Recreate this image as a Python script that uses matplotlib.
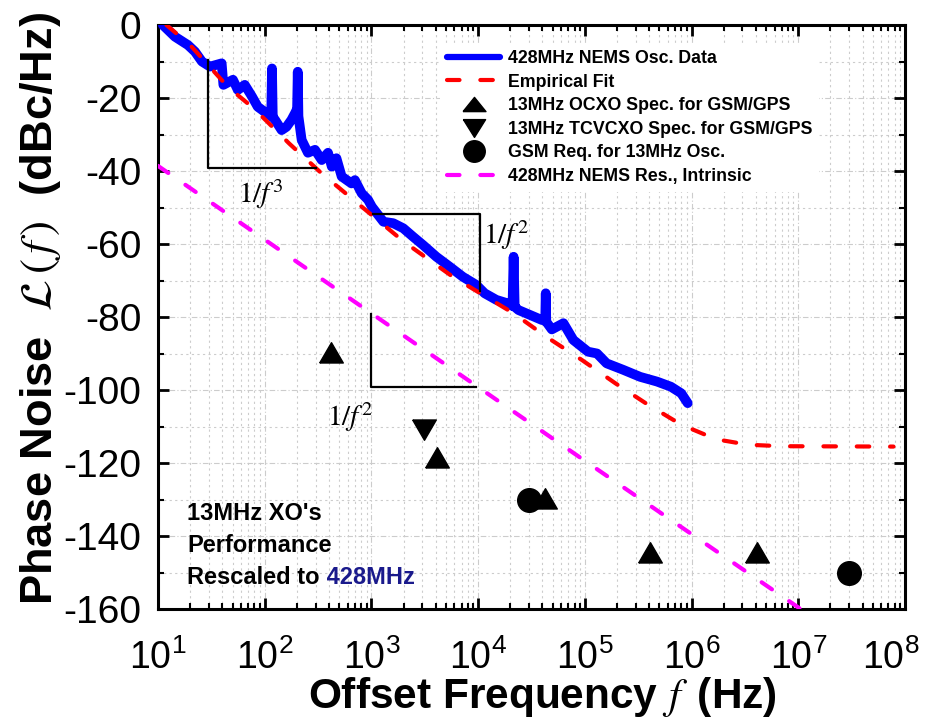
import matplotlib
matplotlib.use("Agg")
import matplotlib.pyplot as plt
from matplotlib.lines import Line2D
from matplotlib.ticker import LogLocator, MultipleLocator, NullFormatter
from matplotlib.transforms import ScaledTranslation

plt.rcParams['font.family'] = ['Liberation Sans', 'DejaVu Sans']
plt.rcParams['mathtext.fontset'] = 'stix'
plt.rcParams['axes.unicode_minus'] = False

# ---------------- data ----------------
blue_f = [11.1, 14.4, 19.1, 22.2, 25.8, 30.7, 39.5, 41, 50.4, 56,
          65, 76, 86, 104.5, 115, 117, 119, 125, 144, 160,
          178, 192, 201, 204, 207, 222, 254, 296, 342, 392,
          425, 470, 526, 650, 700, 810, 930, 1010, 1295, 1600,
          1990, 2455, 3050, 4060, 5400, 7200, 9600, 11500, 14800, 19100,
          21000, 21500, 22000, 23900, 31000, 39400, 42500, 43000, 43500, 49000,
          63000, 78000, 107000, 130000, 160000, 230000, 330000, 475000, 640000, 800000,
          920000]
blue_L = [0, -3.2, -5.5, -7.3, -10, -11.4, -10.5, -16.4, -15, -17.8,
          -16.4, -19.6, -22.4, -24.2, -25, -11.9, -25.2, -26, -28.8, -27.9,
          -26, -24.2, -23, -12.8, -25, -31.5, -35, -34.2, -37, -35,
          -38.8, -36.5, -41.5, -43.4, -42.5, -46.1, -47.9, -49.8, -53.9, -54.3,
          -55.7, -58, -60.3, -63.5, -66.2, -69, -71.2, -73.5, -75.3, -76.3,
          -77, -63.5, -77.2, -78.1, -79.5, -80.8, -81, -73.5, -81.3, -83.4,
          -81.7, -86.3, -89.5, -90, -92.7, -94.5, -96.4, -97.7, -99.1, -100.9,
          -103.6]

fit_f = [12, 20, 45, 80, 170, 340, 1000, 2000, 5800, 21500,
         44000, 94000, 194000, 380000, 800000, 1.7e6, 3.4e6, 7e6, 7.8e7]
fit_L = [0, -5.5, -16.9, -23, -32.5, -40.6, -52, -59.3, -69, -79,
         -85.5, -91.8, -98.2, -103.8, -109.5, -113.5, -115, -115.4, -115.5]

intr_f = [10, 1e3, 1e5, 1.05e7]
intr_L = [-38.6, -79, -119.4, -160]

ocxo_f = [420, 4100, 42500, 410000, 4.1e6]
ocxo_L = [-90, -119, -130, -145, -145]

tcvcxo_f = [3100]
tcvcxo_L = [-110.5]

gsm_f = [30000, 3.0e7]
gsm_L = [-130, -150]

slope3_f = [29.4, 29.4, 303]
slope3_L = [-9.6, -39.2, -39.2]
slope2a_f = [1035, 10400, 10400]
slope2a_L = [-51.7, -51.7, -72.9]
slope2b_f = [990, 990, 9550]
slope2b_L = [-79.2, -99.2, -99.2]

legend_labels = ["428MHz NEMS Osc. Data", "Empirical Fit",
                 "13MHz OCXO Spec. for GSM/GPS", "13MHz TCVCXO Spec. for GSM/GPS",
                 "GSM Req. for 13MHz Osc.", "428MHz NEMS Res., Intrinsic"]

# marker shapes (equilateral-ish triangles)
TRI_UP = [(-1, -0.72), (1, -0.72), (0, 1.0), (-1, -0.72)]
TRI_DN = [(-1, 0.72), (1, 0.72), (0, -1.0), (-1, 0.72)]
TRI_UP_LEG = [(-1, -0.62), (1, -0.62), (0, 0.62), (-1, -0.62)]
TRI_DN_LEG = [(-1, 0.8), (1, 0.8), (0, -0.8), (-1, 0.8)]

# ---------------- figure ----------------
W, H = 930, 723
fig = plt.figure(figsize=(W / 100, H / 100), dpi=100)
ax = fig.add_axes([158 / W, (H - 609) / H, 747 / W, 584 / H])

ax.set_xscale('log')
ax.set_xlim(10, 1e8)
ax.set_ylim(-160, 0)

ax.grid(which='major', color='#cccccc', lw=0.8, ls=(0, (5, 2, 1, 2)), zorder=0)
ax.grid(which='minor', color='#cccccc', lw=0.8, ls=(0, (2, 3)), zorder=0)
ax.set_axisbelow(True)

dash = (3, 5)
ax.plot(intr_f, intr_L, color='#ff00ff', lw=3, dashes=dash, dash_capstyle='round', zorder=3)
ax.plot(blue_f, blue_L, color='#0000ff', lw=7, solid_capstyle='round',
        solid_joinstyle='round', zorder=4)
ax.plot(fit_f, fit_L, color='#ff0000', lw=3, dashes=dash, dash_capstyle='round', zorder=5)

ms = 17
ax.plot(ocxo_f, ocxo_L, ls='none', marker=TRI_UP, ms=ms, color='black', zorder=6)
ax.plot(tcvcxo_f, tcvcxo_L, ls='none', marker=TRI_DN, ms=ms, color='black', zorder=6)
ax.plot(gsm_f, gsm_L, ls='none', marker='o', ms=ms, color='black', zorder=6)

for sf, sL in [(slope3_f, slope3_L), (slope2a_f, slope2a_L), (slope2b_f, slope2b_L)]:
    ax.plot(sf, sL, color='black', lw=1.6, zorder=6)

ax.text(92, -46.3, r'$1/f^{3}$', fontsize=21, ha='center', va='center', zorder=7)
ax.text(1.1e4, -57.5, r'$1/f^{2}$', fontsize=21, ha='left', va='center', zorder=7)
ax.text(630, -107.4, r'$1/f^{2}$', fontsize=21, ha='center', va='center', zorder=7)

# ticks
ax.xaxis.set_major_locator(LogLocator(base=10, numticks=20))
ax.xaxis.set_minor_locator(LogLocator(base=10, subs=range(2, 10), numticks=20))
ax.xaxis.set_minor_formatter(NullFormatter())
ax.yaxis.set_major_locator(MultipleLocator(20))
ax.yaxis.set_minor_locator(MultipleLocator(10))
ax.tick_params(which='both', direction='in', top=True, right=True)
ax.tick_params(which='major', length=8, width=2)
ax.tick_params(which='minor', length=4, width=1.5)
ax.tick_params(axis='x', which='major', labelsize=27, pad=22)
ax.tick_params(axis='y', which='major', labelsize=28, pad=12)
for s in ax.spines.values():
    s.set_linewidth(2.2)

ax.set_xlabel(r'Offset Frequency $f\,$ (Hz)', fontsize=30.5, fontweight='bold')
ax.set_ylabel(r'Phase Noise  $\mathcal{L}\,(\,f\,)$  (dBc/Hz)', fontsize=31,
              fontweight='bold')

# legend
handles = [
    Line2D([], [], color='#0000ff', lw=4.5, solid_capstyle='round'),
    Line2D([], [], color='#ff0000', lw=3, dashes=dash, dash_capstyle='round'),
    Line2D([], [], ls='none', marker=TRI_UP_LEG, ms=16.5, color='black'),
    Line2D([], [], ls='none', marker=TRI_DN_LEG, ms=16, color='black'),
    Line2D([], [], ls='none', marker='o', ms=15.5, color='black'),
    Line2D([], [], color='#ff00ff', lw=3, dashes=dash, dash_capstyle='round'),
]
leg = ax.legend(handles, legend_labels, loc='upper left',
                bbox_to_anchor=((440 - 158) / 747, 1 - (43 - 25) / 584),
                frameon=True, fancybox=False, edgecolor='none', facecolor='white',
                framealpha=1, prop=dict(weight='bold', size=12.8),
                handlelength=3.0, handletextpad=0.4, labelspacing=0.37,
                borderpad=0.4, borderaxespad=0, numpoints=1)
leg.set_zorder(10)

# bottom-left annotation
tx = (187 - 158) / 747
fs = 17
ax.text(tx, 1 - (513 - 25) / 584, "13MHz XO's", transform=ax.transAxes, fontsize=fs,
        fontweight='bold', va='center', ha='left', zorder=8)
ax.text(tx, 1 - (545 - 25) / 584, "Performance", transform=ax.transAxes, fontsize=fs,
        fontweight='bold', va='center', ha='left', zorder=8)
t3 = ax.text(tx, 1 - (577 - 25) / 584, "Rescaled to", transform=ax.transAxes, fontsize=fs,
             fontweight='bold', va='center', ha='left', zorder=8)
ax.annotate(" 428MHz", xy=(1, 0), xycoords=t3, va='bottom', ha='left', fontsize=fs,
            fontweight='bold', color='#1a1a8c', zorder=8)

# fit y-label length to the reference extent and place the axis labels
fig.canvas.draw()
r = fig.canvas.get_renderer()
yl = ax.yaxis.label
yl.set_fontsize(yl.get_fontsize() * 592 / yl.get_window_extent(r).height)
ax.xaxis.set_label_coords((542 - 158) / 747, (609 - 675) / 584)
ax.yaxis.set_label_coords((63 - 158) / 747, 1 - (308 - 25) / 584)

# nudge the rightmost x tick label (10^8) inside the canvas
for t in ax.xaxis.get_majorticklabels():
    if '{8}' in t.get_text():
        t.set_transform(t.get_transform() +
                        ScaledTranslation(-14 / 100, 0, fig.dpi_scale_trans))

fig.savefig('out.png', dpi=100)
